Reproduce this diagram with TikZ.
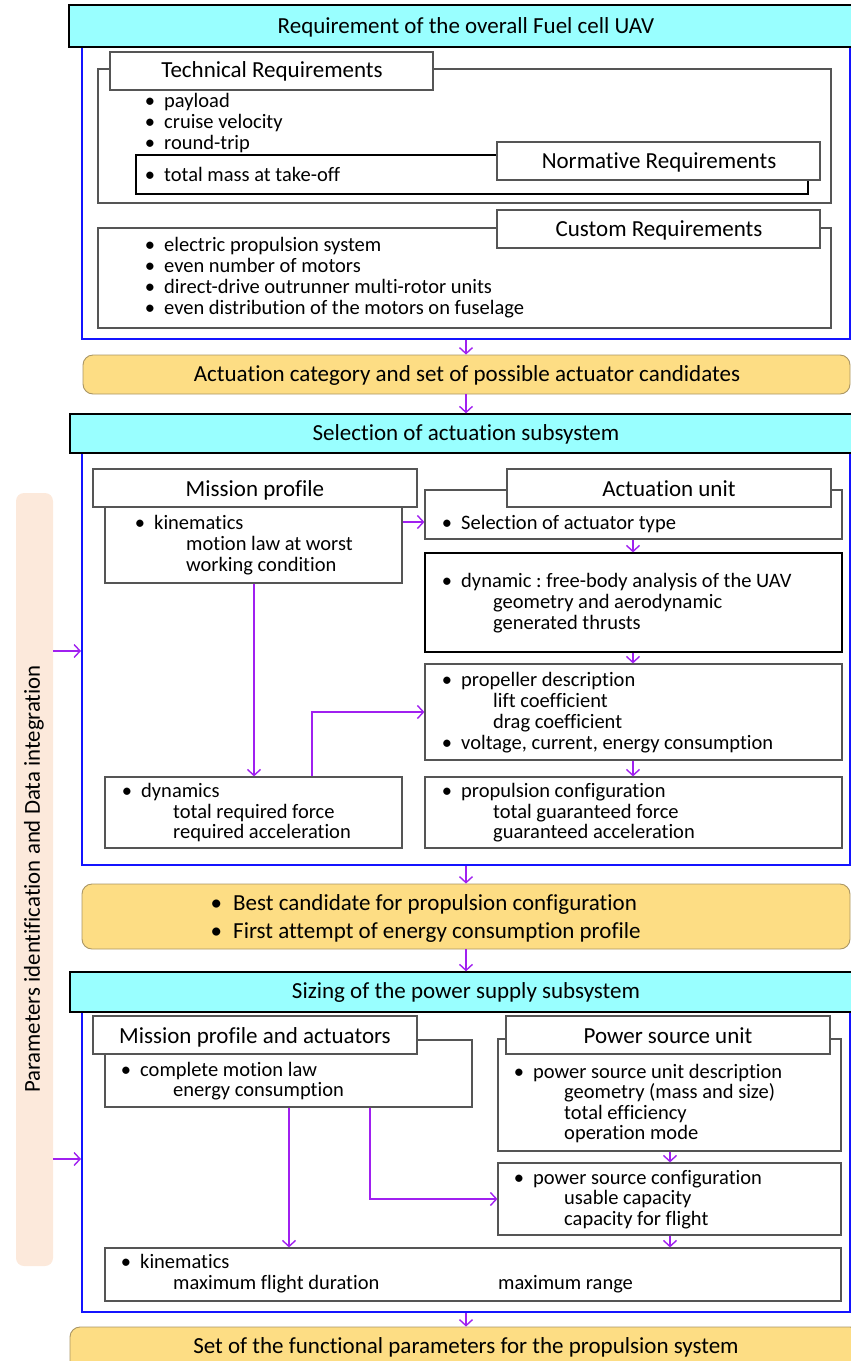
\documentclass[tikz,border=0pt]{standalone}
\usepackage{fontspec}
\usetikzlibrary{arrows.meta,fit}
\newfontfamily\calfont{Carlito}[Ligatures=CommonOff]
\definecolor{hdrcyan}{RGB}{153,255,255}
\definecolor{gold}{RGB}{253,221,132}
\definecolor{goldedge}{RGB}{170,150,100}
\definecolor{peach}{RGB}{252,233,219}
\definecolor{frameblue}{RGB}{20,20,255}
\definecolor{arrowviolet}{RGB}{160,32,240}
\definecolor{boxgray}{RGB}{85,85,85}
\newcommand{\bul}[1]{\llap{\char"2022\hspace{#1}}}
\begin{document}
\frenchspacing
\begin{tikzpicture}[x=1pt,y=-1pt,
  frame/.style={draw=frameblue, line width=2pt, inner sep=0pt},
  cyanhdr/.style={draw=black, fill=hdrcyan, line width=1.4pt, inner sep=0pt},
  goldbox/.style={draw=goldedge, fill=gold, rounded corners=10pt, inner sep=0pt, line width=0.9pt},
  gbox/.style={draw=boxgray, fill=white, line width=1.2pt, inner sep=0pt},
  title/.style={anchor=base, inner sep=0pt, font=\calfont\fontsize{23}{27}\selectfont},
  item/.style={anchor=base west, inner sep=0pt, font=\calfont\fontsize{20.5}{24}\selectfont},
  bigitem/.style={anchor=base west, inner sep=0pt, font=\calfont\fontsize{23}{27}\selectfont},
  arr/.style={draw=arrowviolet, line width=1.4pt, -{Straight Barb[length=6pt,width=13pt]}}
]
\useasboundingbox (0,0) rectangle (851,1361);
\coordinate (axis) at (466,0);
\coordinate (in2) at (0,651);
\coordinate (in3) at (0,1159);

% ---------- side bar ----------
\node[fill=peach, rounded corners=8pt, inner sep=0pt, fit={(16,493) (53,1266)}] (bar) {};
\node[rotate=90, inner sep=0pt, font=\calfont\fontsize{22.8}{26}\selectfont] (bartxt) at (34,879)
  {Parameters identification and Data integration};

% ---------- requirements ----------
\node[frame, fit={(82,47) (850,339)}] (frame1) {};
\node[cyanhdr, fit={(69,5) (855,47)}] (hdr1) {};
\node[title] (hdr1txt) at (466,33) {Requirement of the overall Fuel cell UAV};

\node[gbox, fit={(98,69) (831,203)}] (tech) {};
\node[gbox, draw=black, fit={(136,155) (808,194)}] (norm) {};
\node[gbox, fit={(497,142) (820,180)}] (normhdr) {};
\node[title] (normtxt) at (659,168) {Normative Requirements};
\node[gbox, fit={(110,52) (433,90)}] (techhdr) {};
\node[title] (techtxt) at (272,77) {Technical Requirements};
\node[item] (t1) at (164,107) {\bul{9pt}payload};
\node[item] (t2) at (164,128) {\bul{9pt}cruise velocity};
\node[item] (t3) at (164,149) {\bul{9pt}round-trip};
\node[item] (t4) at (164,181) {\bul{9pt}total mass at take-off};

\node[gbox, fit={(98,228) (831,328)}] (cust) {};
\node[gbox, fit={(497,210) (820,248)}] (custhdr) {};
\node[title] (custtxt) at (659,236) {Custom Requirements};
\node[item] (c1) at (164,251.5) {\bul{9pt}electric propulsion system};
\node[item] (c2) at (164,272.5) {\bul{9pt}even number of motors};
\node[item] (c3) at (164,293) {\bul{9pt}direct-drive outrunner multi-rotor units};
\node[item] (c4) at (164,314) {\bul{9pt}even distribution of the motors on fuselage};

\node[goldbox, fit={(83,355) (850,394)}] (gold1) {};
\node[title] (gold1txt) at (467,381) {Actuation category and set of possible actuator candidates};

% ---------- actuation subsystem ----------
\node[frame, fit={(82,453) (850,865)}] (frame2) {};
\node[cyanhdr, fit={(70,414) (855,453)}] (hdr2) {};
\node[title] (hdr2txt) at (466,440) {Selection of actuation subsystem};

\node[gbox, fit={(105,507) (402,583)}] (mpc) {};
\node[gbox, fit={(93,469) (417,507)}] (mphdr) {};
\node[title] (mptxt) at (255,496) {Mission profile};
\node[item] (m1) at (154,529) {\bul{9pt}kinematics};
\node[item] (m2) at (186,550) {motion law at worst};
\node[item] (m3) at (186,571) {working condition};

\node[gbox, fit={(105,777) (402,848)}] (dynl) {};
\node[item] (d1) at (141,797) {\bul{9pt}dynamics};
\node[item] (d2) at (173,818) {total required force};
\node[item] (d3) at (173,838) {required acceleration};

\node[gbox, fit={(425,490) (842,539)}] (sel) {};
\node[gbox, fit={(507,469) (831,507)}] (acthdr) {};
\node[title] (acttxt) at (669,496) {Actuation unit};
\node[item] (s1) at (461,529) {\bul{9pt}Selection of actuator type};

\node[gbox, draw=black, fit={(425,553) (842,652)}] (dynr) {};
\node[item] (r1) at (461,587) {\bul{9pt}dynamic : free-body analysis of the UAV};
\node[item] (r2) at (493,608) {geometry and aerodynamic};
\node[item] (r3) at (493,629) {generated thrusts};

\node[gbox, fit={(425,664) (842,760)}] (prop) {};
\node[item] (p1) at (461,686) {\bul{9pt}propeller description};
\node[item] (p2) at (493,707) {lift coefficient};
\node[item] (p3) at (493,728) {drag coefficient};
\node[item] (p4) at (461,749) {\bul{9pt}voltage, current, energy consumption};

\node[gbox, fit={(425,777) (842,848)}] (pconf) {};
\node[item] (q1) at (461,797) {\bul{9pt}propulsion configuration};
\node[item] (q2) at (493,818) {total guaranteed force};
\node[item] (q3) at (493,838) {guaranteed acceleration};

\node[goldbox, fit={(82,884) (850,949)}] (gold2) {};
\node[bigitem] (g1) at (233,910) {\bul{11pt}Best candidate for propulsion configuration};
\node[bigitem] (g2) at (233,938) {\bul{11pt}First attempt of energy consumption profile};

% ---------- power supply subsystem ----------
\node[frame, fit={(82,1012) (850,1312)}] (frame3) {};
\node[cyanhdr, fit={(70,972) (855,1012)}] (hdr3) {};
\node[title] (hdr3txt) at (466,998) {Sizing of the power supply subsystem};

\node[gbox, fit={(105,1040) (472,1107)}] (mpa) {};
\node[gbox, fit={(93,1016) (417,1054)}] (mpahdr) {};
\node[title] (mpatxt) at (255,1043) {Mission profile and actuators};
\node[item] (a1) at (140,1076) {\bul{9pt}complete motion law};
\node[item] (a2) at (173,1096) {energy consumption};

\node[gbox, fit={(498,1039) (841,1151)}] (psu) {};
\node[gbox, fit={(506,1016) (830,1054)}] (psuhdr) {};
\node[title] (psutxt) at (668,1043) {Power source unit};
\node[item] (u1) at (533,1078) {\bul{9pt}power source unit description};
\node[item] (u2) at (564,1098) {geometry (mass and size)};
\node[item] (u3) at (564,1119) {total efficiency};
\node[item] (u4) at (564,1139) {operation mode};

\node[gbox, fit={(498,1163) (841,1235)}] (cfg) {};
\node[item] (f1) at (533,1184) {\bul{9pt}power source configuration};
\node[item] (f2) at (564,1204) {usable capacity};
\node[item] (f3) at (564,1225) {capacity for flight};

\node[gbox, fit={(105,1248) (841,1301)}] (kin) {};
\node[item] (k1) at (140,1268) {\bul{9pt}kinematics};
\node[item] (k2) at (173,1289) {maximum flight duration};
\node[item] (k3) at (498,1289) {maximum range};

\node[goldbox, fit={(70,1327) (860,1380)}] (gold3) {};
\node[title] (gold3txt) at (466,1353) {Set of the functional parameters for the propulsion system};

% ---------- connectors ----------
\draw[arr] (frame1.south -| axis) -- (gold1.north -| axis);
\draw[arr] (gold1.south -| axis) -- (hdr2.north -| axis);
\draw[arr] (frame2.south -| axis) -- (gold2.north -| axis);
\draw[arr] (gold2.south -| axis) -- (hdr3.north -| axis);
\draw[arr] (frame3.south -| axis) -- (gold3.north -| axis);

\draw[arr] (bar.east |- in2) -- (frame2.west |- in2);
\draw[arr] (bar.east |- in3) -- (frame3.west |- in3);

\coordinate (colL) at (254,0);
\coordinate (colR) at (312,0);
\coordinate (colA) at (633,0);
\coordinate (colM) at (289,0);
\coordinate (colE) at (370,0);
\coordinate (colP) at (670,0);

\draw[arr] (mpc.east |- 0,522) -- (sel.west |- 0,522);
\draw[arr] (mpc.south -| colL) -- (dynl.north -| colL);
\draw[arr] (dynl.north -| colR) |- (prop.west);
\draw[arr] (sel.south -| colA) -- (dynr.north -| colA);
\draw[arr] (dynr.south -| colA) -- (prop.north -| colA);
\draw[arr] (prop.south -| colA) -- (pconf.north -| colA);

\draw[arr] (mpa.south -| colM) -- (kin.north -| colM);
\draw[arr] (mpa.south -| colE) |- (cfg.west);
\draw[arr] (psu.south -| colP) -- (cfg.north -| colP);
\draw[arr] (cfg.south -| colP) -- (kin.north -| colP);
\end{tikzpicture}
\end{document}
